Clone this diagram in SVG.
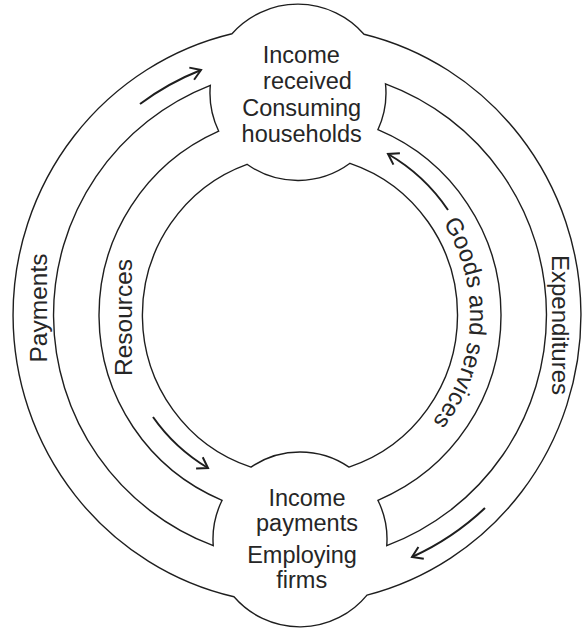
<svg xmlns="http://www.w3.org/2000/svg" width="583" height="631" viewBox="0 0 583 631">
<style>
.ln{fill:#fff;stroke:#1e1e1e;stroke-width:1.4;stroke-linejoin:miter}
.ar{fill:none;stroke:#1e1e1e;stroke-width:2;marker-end:url(#ah)}
text{font-family:"Liberation Sans",Arial,sans-serif;fill:#262626}
.n{font-size:23.5px;text-anchor:middle}
.l{font-size:24.5px;text-anchor:middle}
</style>
<defs>
<marker id="ah" viewBox="-2 -9 17 18" refX="12" refY="0" markerWidth="17" markerHeight="18" orient="auto" markerUnits="userSpaceOnUse">
<path d="M2,-6.5 L12,0 L2,6.5" fill="none" stroke="#1e1e1e" stroke-width="2"/>
</marker>
<path id="gsPath" d="M366.4,158.5 A170,170 0 0 1 349.7,477.6"/>
</defs>
<rect width="583" height="631" fill="#fff"/>
<g id="rings">
<path class="ln" d="M234,596.8 A284,289 0 0 1 232,33.7 A88,88 0 0 1 364,34.2 A284,289 0 0 1 367,595.1 A87,87 0 0 1 234,596.8 Z"/>
<path class="ln" d="M210.3,85.4 A246.5,246.5 0 0 0 213.25,545.7 A87,87 0 0 1 222.1,500.3 A201,201 0 0 1 218.7,131.2 A88,88 0 0 1 210.3,85.4 Z"/>
<path class="ln" d="M385.5,83.8 A88,88 0 0 1 377.9,129.7 A201,201 0 0 1 377.9,500.3 A87,87 0 0 1 386.75,545.7 A246.5,246.5 0 0 0 385.5,83.8 Z"/>
<path class="ln" d="M247,164.3 A88,88 0 0 0 350,163.3 A157.5,160 0 0 1 349,467.1 A87,87 0 0 0 251,467.1 A157.5,160 0 0 1 247,164.3 Z"/>
</g>
<g id="node-households">
<text class="n" x="301.3" y="62.5">Income</text>
<text class="n" x="307.5" y="89">received</text>
<text class="n" x="301.7" y="116">Consuming</text>
<text class="n" x="301.7" y="141.5">households</text>
</g>
<g id="node-firms">
<text class="n" x="307" y="505.7">Income</text>
<text class="n" x="307" y="530.7">payments</text>
<text class="n" x="302" y="562.7">Employing</text>
<text class="n" x="301.7" y="587.7">firms</text>
</g>
<g id="connectors">
<path class="ar" d="M140,104 A265,265 0 0 1 201,70"/>
<path class="ar" d="M448,210 A182,182 0 0 0 388,154"/>
<path class="ar" d="M153,417 A179,179 0 0 0 208,468"/>
<path class="ar" d="M485,508 A267,267 0 0 1 412,557"/>
<text class="l" transform="translate(46.5,308) rotate(-90)">Payments</text>
<text class="l" transform="translate(132,317.5) rotate(-90)">Resources</text>
<text class="l" style="font-size:24px" transform="translate(552,325) rotate(90)">Expenditures</text>
<text style="font-size:24px"><textPath href="#gsPath" startOffset="50%" text-anchor="middle">Goods and services</textPath></text>
</g>
</svg>
